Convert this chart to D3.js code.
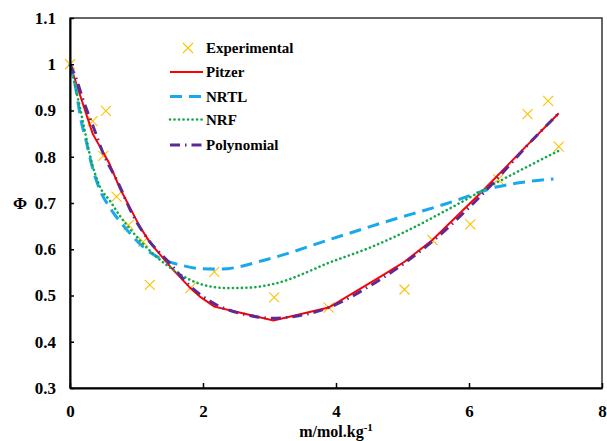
<!DOCTYPE html>
<html>
<head>
<meta charset="utf-8">
<script src="https://cdn.jsdelivr.net/npm/d3@7"></script>
<style>
  body { margin: 0; background: #fff; }
  svg text { font-family: "Liberation Serif", "Times New Roman", serif; font-weight: bold; fill: #000; }
</style>
</head>
<body>
<div id="chart"></div>
<script>
// experimental points
var expX = [0, 0.34, 0.5, 0.54, 0.70, 0.88, 1.10, 1.20, 1.81, 2.17, 3.07, 3.89, 5.03, 5.45, 6.02, 6.44, 6.88, 7.19, 7.35];
var expY = [1.0, 0.877, 0.802, 0.899, 0.714, 0.652, 0.616, 0.523, 0.516, 0.551, 0.496, 0.474, 0.513, 0.620, 0.654, 0.751, 0.892, 0.921, 0.822];

// model curves
var pitzerX = [0, 0.34, 0.59, 0.75, 1.05, 1.20, 1.51, 1.81, 1.96, 2.17, 3.06, 3.89, 4.67, 5.03, 5.45, 6.17, 6.78, 7.35];
var pitzerY = [1.0, 0.850, 0.786, 0.732, 0.649, 0.615, 0.562, 0.516, 0.497, 0.476, 0.446, 0.474, 0.541, 0.573, 0.620, 0.721, 0.811, 0.894];

var nrtlX = [0, 0.07, 0.17, 0.24, 0.32, 0.45, 0.6, 0.85, 1.1, 1.36, 1.66, 1.96, 2.26, 2.96, 3.97, 4.67, 5.67, 6.43, 7.27];
var nrtlY = [1.0, 0.96, 0.876, 0.836, 0.786, 0.728, 0.690, 0.643, 0.605, 0.580, 0.566, 0.558, 0.557, 0.578, 0.624, 0.656, 0.699, 0.735, 0.752];

var nrfX = [0, 0.12, 0.2, 0.3, 0.45, 0.6, 0.75, 0.95, 1.25, 1.51, 1.76, 2.06, 2.36, 2.7, 3.06, 3.97, 4.5, 5.0, 5.67, 6.43, 7.35];
var nrfY = [1.0, 0.926, 0.872, 0.803, 0.735, 0.705, 0.672, 0.636, 0.590, 0.560, 0.537, 0.521, 0.516, 0.517, 0.525, 0.575, 0.603, 0.635, 0.685, 0.745, 0.813];

var polyX = [0, 0.11, 0.19, 0.35, 0.5, 0.73, 0.93, 1.18, 1.48, 1.81, 2.16, 2.6, 3.06, 3.5, 3.89, 4.5, 5.03, 5.45, 6.0, 6.44, 6.88, 7.35];
var polyY = [1.0, 0.962, 0.926, 0.865, 0.807, 0.742, 0.678, 0.620, 0.573, 0.520, 0.483, 0.460, 0.451, 0.458, 0.474, 0.520, 0.570, 0.617, 0.690, 0.755, 0.825, 0.894];

var xTicks = [0, 2, 4, 6, 8];
var yTicks = [0.3, 0.4, 0.5, 0.6, 0.7, 0.8, 0.9, 1.0, 1.1];

function draw() {
  var width = 607, height = 441;
  var pLeft = 70, pRight = 602, pTop = 18, pBottom = 388;

  var svg = d3.select("#chart").append("svg")
    .attr("width", width)
    .attr("height", height);

  var x = d3.scaleLinear().domain([0, 8]).range([pLeft, pRight]);
  var y = d3.scaleLinear().domain([0.3, 1.1]).range([pBottom, pTop]);

  // frame
  svg.append("rect")
    .attr("x", pLeft).attr("y", pTop)
    .attr("width", pRight - pLeft).attr("height", pBottom - pTop)
    .attr("fill", "none")
    .attr("stroke", "#333")
    .attr("stroke-width", 1.5);

  function zip(xs, ys) { return xs.map(function(v, i) { return [v, ys[i]]; }); }

  var lineLin = d3.line().x(function(d) { return x(d[0]); }).y(function(d) { return y(d[1]); });
  var lineSmooth = d3.line().curve(d3.curveMonotoneX).x(function(d) { return x(d[0]); }).y(function(d) { return y(d[1]); });

  var series = [
    {name: "Pitzer", data: zip(pitzerX, pitzerY), color: "#ff0000", w: 2, dash: null, cap: "butt", gen: lineLin},
    {name: "NRTL", data: zip(nrtlX, nrtlY), color: "#1aa8ec", w: 3, dash: "12,7", cap: "butt", gen: lineSmooth},
    {name: "NRF", data: zip(nrfX, nrfY), color: "#14a84a", w: 2.6, dash: "0.1,4.4", cap: "round", gen: lineSmooth},
    {name: "Polynomial", data: zip(polyX, polyY), color: "#5e2a92", w: 3, dash: "10,5,1.5,5", cap: "butt", gen: lineSmooth}
  ];

  function cross(g, cx, cy, ms) {
    g.append("path")
      .attr("d", "M" + (cx - ms) + "," + (cy - ms) + "L" + (cx + ms) + "," + (cy + ms) +
                 "M" + (cx - ms) + "," + (cy + ms) + "L" + (cx + ms) + "," + (cy - ms))
      .attr("stroke", "#ffc000")
      .attr("stroke-width", 1.1)
      .attr("fill", "none");
  }

  // experimental markers (x)
  var exp = svg.append("g").attr("id", "exp");
  zip(expX, expY).forEach(function(d) { cross(exp, x(d[0]), y(d[1]), 5); });

  series.forEach(function(s) {
    svg.append("path")
      .datum(s.data)
      .attr("d", s.gen)
      .attr("fill", "none")
      .attr("stroke", s.color)
      .attr("stroke-width", s.w)
      .attr("stroke-linecap", s.cap)
      .attr("stroke-dasharray", s.dash);
  });

  // axes
  var yAxis = d3.axisLeft(y)
    .tickValues(yTicks)
    .tickSizeInner(-4)
    .tickSizeOuter(0)
    .tickPadding(14)
    .tickFormat(function(d) { return d === 1 ? "1" : d3.format(".1f")(d); });

  var gy = svg.append("g").attr("transform", "translate(" + pLeft + ",0)").call(yAxis);
  gy.selectAll("text").style("font-size", "17px");

  var xAxis = d3.axisBottom(x)
    .tickValues(xTicks)
    .tickSizeInner(-5)
    .tickSizeOuter(0)
    .tickPadding(17)
    .tickFormat(d3.format("d"));

  var gx = svg.append("g").attr("transform", "translate(0," + pBottom + ")").call(xAxis);
  gx.selectAll("text").style("font-size", "17px");

  [gx, gy].forEach(function(g) {
    g.select(".domain").attr("stroke", "#000").attr("stroke-width", 2);
    g.selectAll(".tick line").attr("stroke", "#000").attr("stroke-width", 1.5);
  });

  // axis titles
  svg.append("text")
    .attr("x", 20).attr("y", 209)
    .attr("text-anchor", "middle")
    .style("font-size", "17px")
    .text("Φ");

  var xt = svg.append("text")
    .attr("x", 336).attr("y", 437)
    .attr("text-anchor", "middle")
    .style("font-size", "16px");
  xt.append("tspan").text("m/mol.kg");
  xt.append("tspan").attr("dy", -6).style("font-size", "11px").text("-1");

  // legend
  var legY = [48, 72, 96.5, 119.5, 145];
  var leg = svg.append("g").attr("id", "legend");

  cross(leg, 188, legY[0], 5);
  leg.append("text").attr("x", 206).attr("y", legY[0] + 5).style("font-size", "15px").text("Experimental");

  series.forEach(function(s, i) {
    var ly = legY[i + 1];
    leg.append("line")
      .attr("x1", 170).attr("x2", 203)
      .attr("y1", ly).attr("y2", ly)
      .attr("stroke", s.color)
      .attr("stroke-width", s.w)
      .attr("stroke-linecap", s.cap)
      .attr("stroke-dasharray", s.dash);
    leg.append("text").attr("x", 206).attr("y", ly + 5).style("font-size", "15px").text(s.name);
  });
}

draw();
</script>
</body>
</html>
